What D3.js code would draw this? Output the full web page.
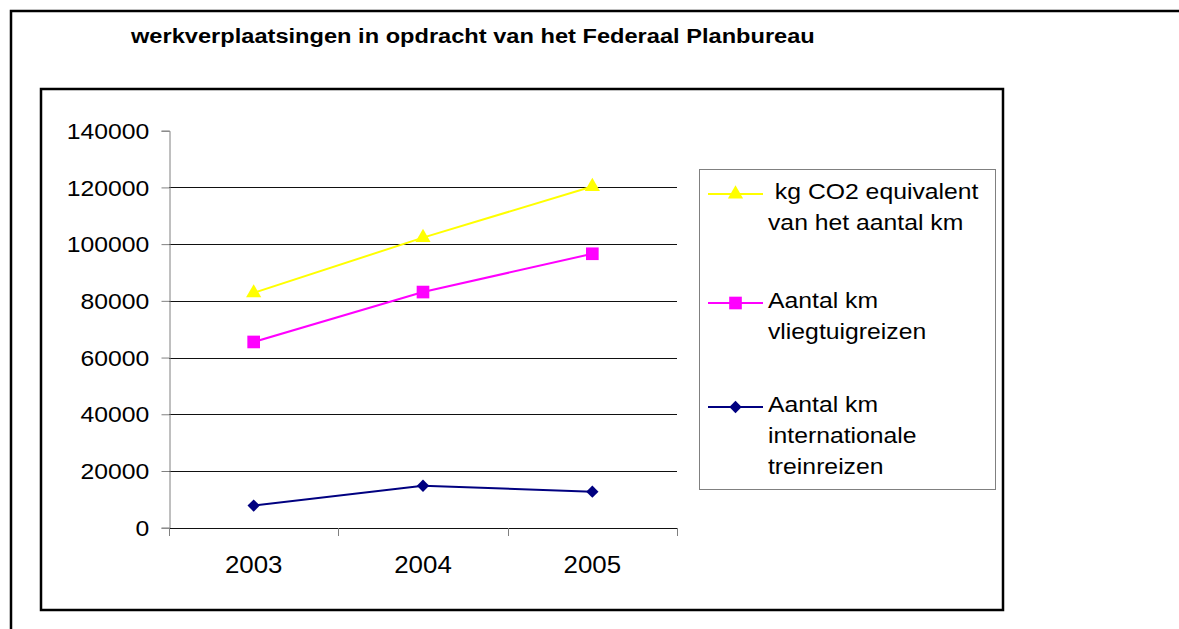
<!DOCTYPE html>
<html>
<head>
<meta charset="utf-8">
<script src="https://cdn.jsdelivr.net/npm/d3@7"></script>
<style>
  body { margin: 0; background: #fff; }
  svg { display: block; }
  text { font-family: "Liberation Sans", Arial, sans-serif; fill: #000; }
</style>
</head>
<body>
<svg width="1179" height="629"></svg>
<script>
// data
const years = ["2003", "2004", "2005"];
const co2Values = [82800, 102300, 120300];
const vliegValues = [65500, 83100, 96600];
const treinValues = [7800, 14800, 12700];
const yTicks = [0, 20000, 40000, 60000, 80000, 100000, 120000, 140000];

const seriesNames = [
    [" kg CO2 equivalent", "van het aantal km"],
    ["Aantal km", "vliegtuigreizen"],
    ["Aantal km", "internationale", "treinreizen"]
];
const seriesValues = [co2Values, vliegValues, treinValues];
const seriesColors = ["#ffff00", "#ff00ff", "#000080"];

const sx = 1.125; // the original text is stretched a bit wide

// marker: triangle, square, diamond (square turned 45 degrees)
function marker(sel, s) {
    if (s === 0) {
        sel.attr("d", d3.symbol().type(d3.symbolTriangle).size(100));
    } else if (s === 1) {
        sel.attr("d", d3.symbol().type(d3.symbolSquare).size(160));
    } else {
        sel.attr("d", d3.symbol().type(d3.symbolSquare).size(76))
            .attr("transform", function() { return d3.select(this).attr("transform") + " rotate(45)"; });
    }
}

var svg = d3.select("svg");

// outer frame and chart frame
svg.append("path")
    .attr("d", "M11,640V11H1190")
    .attr("fill", "none")
    .attr("stroke", "#000")
    .attr("stroke-width", 2.5);
svg.append("rect")
    .attr("x", 41).attr("y", 89)
    .attr("width", 962).attr("height", 521)
    .attr("fill", "none")
    .attr("stroke", "#000")
    .attr("stroke-width", 2.5);

svg.append("text")
    .attr("transform", "translate(131,43) scale(" + sx + ",1)")
    .attr("font-size", 21)
    .attr("font-weight", "bold")
    .text("werkverplaatsingen in opdracht van het Federaal Planbureau");

var x = d3.scaleBand().domain(years).range([169, 677]);
var y = d3.scaleLinear().domain([0, 140000]).range([527.7, 130.7]);
var cx = d => x(d) + x.bandwidth() / 2;

// gridlines
svg.append("g")
    .selectAll("line")
    .data(yTicks.filter(v => v > 0 && v < 140000))
    .enter().append("line")
    .attr("x1", 169).attr("x2", 677)
    .attr("y1", d => Math.round(y(d)) + 0.5)
    .attr("y2", d => Math.round(y(d)) + 0.5)
    .attr("stroke", "#111")
    .attr("stroke-width", 1);

// y axis
var yAxis = svg.append("g")
    .attr("transform", "translate(169.5,0)")
    .call(d3.axisLeft(y).tickValues(yTicks).tickSize(8).tickPadding(10).tickFormat(d3.format("d")));
yAxis.selectAll("path, line").attr("stroke", "#808080");
yAxis.selectAll("text")
    .attr("font-size", 22)
    .attr("font-family", null)
    .attr("dy", "0.35em")
    .attr("transform", "scale(" + sx + ",1)");

// x axis
var xAxis = svg.append("g")
    .attr("transform", "translate(0,528)")
    .call(d3.axisBottom(x).tickSize(0).tickPadding(0).tickSizeOuter(0));
xAxis.select(".domain").attr("stroke", "#111");
xAxis.selectAll("text").remove();
svg.append("g")
    .selectAll("line")
    .data(years.map(d => x(d)).concat([x.range()[1]]))
    .enter().append("line")
    .attr("x1", d => Math.round(d) + 0.5).attr("x2", d => Math.round(d) + 0.5)
    .attr("y1", 528).attr("y2", 536)
    .attr("stroke", "#808080");
svg.append("g")
    .selectAll("text")
    .data(years)
    .enter().append("text")
    .attr("transform", d => "translate(" + cx(d) + ",573) scale(" + sx + ",1)")
    .attr("text-anchor", "middle")
    .attr("font-size", 23)
    .text(d => d);

// series
var line = d3.line().x((v, i) => cx(years[i])).y(v => y(v));
seriesValues.forEach((vals, s) => {
    var g = svg.append("g");
    g.append("path")
        .attr("d", line(vals))
        .attr("fill", "none")
        .attr("stroke", seriesColors[s])
        .attr("stroke-width", 2);
    g.selectAll("path.m")
        .data(vals)
        .enter().append("path")
        .attr("class", "m")
        .attr("transform", (v, i) => "translate(" + cx(years[i]) + "," + y(v) + ")")
        .attr("fill", seriesColors[s])
        .call(marker, s);
});

// legend
var legend = svg.append("g");
legend.append("rect")
    .attr("x", 699.5).attr("y", 169.5)
    .attr("width", 296).attr("height", 320)
    .attr("fill", "none")
    .attr("stroke", "#808080");
var legendY = [194, 303, 407];
seriesNames.forEach((lines, s) => {
    var ly = legendY[s];
    legend.append("line")
        .attr("x1", 708).attr("x2", 763)
        .attr("y1", ly).attr("y2", ly)
        .attr("stroke", seriesColors[s])
        .attr("stroke-width", 2);
    legend.append("path")
        .attr("transform", "translate(735.5," + ly + ")")
        .attr("fill", seriesColors[s])
        .call(marker, s);
    lines.forEach((t, k) => {
        legend.append("text")
            .attr("transform", "translate(768," + (ly + 5 + k * 31) + ") scale(" + sx + ",1)")
            .attr("font-size", 22)
            .attr("xml:space", "preserve")
            .style("white-space", "pre")
            .text(t);
    });
});
</script>
</body>
</html>
